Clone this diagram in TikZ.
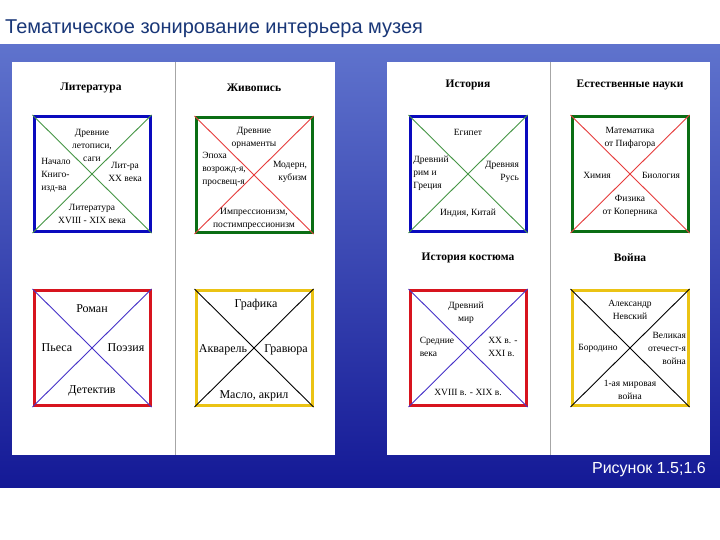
\documentclass[tikz,border=0pt]{standalone}
\usepackage{fontspec}
\setmainfont{Liberation Serif}
\newfontfamily\titlefont{Liberation Sans}
\definecolor{bgtop}{RGB}{95,115,205}
\definecolor{bgbot}{RGB}{20,25,150}
\definecolor{ttl}{RGB}{25,55,120}
\definecolor{bblue}{RGB}{10,10,190}
\definecolor{bgreen}{RGB}{10,110,20}
\definecolor{bred}{RGB}{215,20,30}
\definecolor{byellow}{RGB}{235,195,20}
\definecolor{dgreen}{RGB}{70,150,70}
\definecolor{dred}{RGB}{230,60,60}
\definecolor{dblue}{RGB}{70,50,200}
\tikzset{
  zone/.style={draw=#1,line width=3pt,minimum width=116pt,minimum height=115pt,inner sep=0pt,fill=white},
  diag/.style={draw=#1,line width=0.9pt},
  lbl/.style={font=\fontsize{9.5}{13}\selectfont,align=center,inner sep=0pt},
  big/.style={font=\fontsize{12}{14}\selectfont,align=center,inner sep=0pt},
  head/.style={font=\bfseries\fontsize{11.5}{13}\selectfont,inner sep=0pt},
  panel/.style={fill=white,draw=none}
}
\newcommand{\zonebox}[5]{%
  \node[zone=#4] (#1) at (#2,#3) {};
  \draw[diag=#5] (#1.north west) -- (#1.south east);
  \draw[diag=#5] (#1.north east) -- (#1.south west);}
\begin{document}
\begin{tikzpicture}[x=1pt,y=-1pt]
\useasboundingbox (0,0) rectangle (720,540);
\fill[white] (0,0) rectangle (720,540);
\shade[top color=bgtop,bottom color=bgbot] (0,45) rectangle (720,487);
\node[anchor=west,inner sep=0pt,text=ttl,font=\titlefont\fontsize{20}{22}\selectfont] (title) at (5,29) {Тематическое зонирование интерьера музея};
\node[anchor=east,inner sep=0pt,text=white,font=\titlefont\fontsize{16}{18}\selectfont] (fig) at (706,470) {Рисунок 1.5;1.6};
\fill[panel] (12,62) rectangle (335,455);
\fill[panel] (387,62) rectangle (710,455);
\draw[gray!70,line width=0.6pt] (175,62) -- (175,455);
\draw[gray!70,line width=0.6pt] (550,62) -- (550,455);
\node[head] (h1) at (91,88) {Литература};
\node[head] (h2) at (254,88) {Живопись};
\node[head] (h3) at (468,85) {История};
\node[head] (h4) at (630,85) {Естественные науки};
\node[head] (h5) at (468,258) {История костюма};
\node[head] (h6) at (630,258) {Война};
\zonebox{b1}{92}{174}{bblue}{dgreen}
\zonebox{b2}{254}{175}{bgreen}{dred}
\zonebox{b3}{92}{348}{bred}{dblue}
\zonebox{b4}{254}{348}{byellow}{black}
\zonebox{b5}{468}{174}{bblue}{dgreen}
\zonebox{b6}{630}{174}{bgreen}{dred}
\zonebox{b7}{468}{348}{bred}{dblue}
\zonebox{b8}{630}{348}{byellow}{black}
% Литература
\node[lbl] (t1) at (92,145) {Древние\\летописи,\\саги};
\node[lbl,align=left] (t2) at (56,175) {Начало\\Книго-\\изд-ва};
\node[lbl] (t3) at (125,172) {Лит-ра\\XX века};
\node[lbl] (t4) at (92,214) {Литература\\XVIII - XIX века};
% Живопись
\node[lbl] (t5) at (254,138) {Древние\\орнаменты};
\node[lbl,align=left] (t6) at (224,169) {Эпоха\\возрожд-я,\\просвещ-я};
\node[lbl,align=right] (t7) at (290,172) {Модерн,\\кубизм};
\node[lbl] (t8) at (254,219) {Импрессионизм,\\постимпрессионизм};
% Роман
\node[big] (t9) at (92,309) {Роман};
\node[big] (t10) at (57,348) {Пьеса};
\node[big] (t11) at (126,348) {Поэзия};
\node[big] (t12) at (92,391) {Детектив};
% Графика
\node[big] (t13) at (256,305) {Графика};
\node[big] (t14) at (223,350) {Акварель};
\node[big] (t15) at (286,350) {Гравюра};
\node[big] (t16) at (254,396) {Масло, акрил};
% История
\node[lbl] (t17) at (468,132) {Египет};
\node[lbl,align=left] (t18) at (431,173) {Древний\\рим и\\Греция};
\node[lbl,align=right] (t19) at (502,172) {Древняя\\Русь};
\node[lbl] (t20) at (468,213) {Индия, Китай};
% Естественные науки
\node[lbl] (t21) at (630,138) {Математика\\от Пифагора};
\node[lbl] (t22) at (597,175) {Химия};
\node[lbl] (t23) at (661,175) {Биология};
\node[lbl] (t24) at (630,206) {Физика\\от Коперника};
% Костюм
\node[lbl] (t25) at (466,313) {Древний\\мир};
\node[lbl,align=left] (t26) at (437,347) {Средние\\века};
\node[lbl,align=left] (t27) at (503,347) {XX в. -\\XXI в.};
\node[lbl] (t28) at (468,392) {XVIII в. - XIX в.};
% Война
\node[lbl] (t29) at (630,310) {Александр\\Невский};
\node[lbl] (t30) at (598,348) {Бородино};
\node[lbl,align=right] (t31) at (667,348) {Великая\\отечест-я\\война};
\node[lbl] (t32) at (630,390) {1-ая мировая\\война};
\end{tikzpicture}
\end{document}
